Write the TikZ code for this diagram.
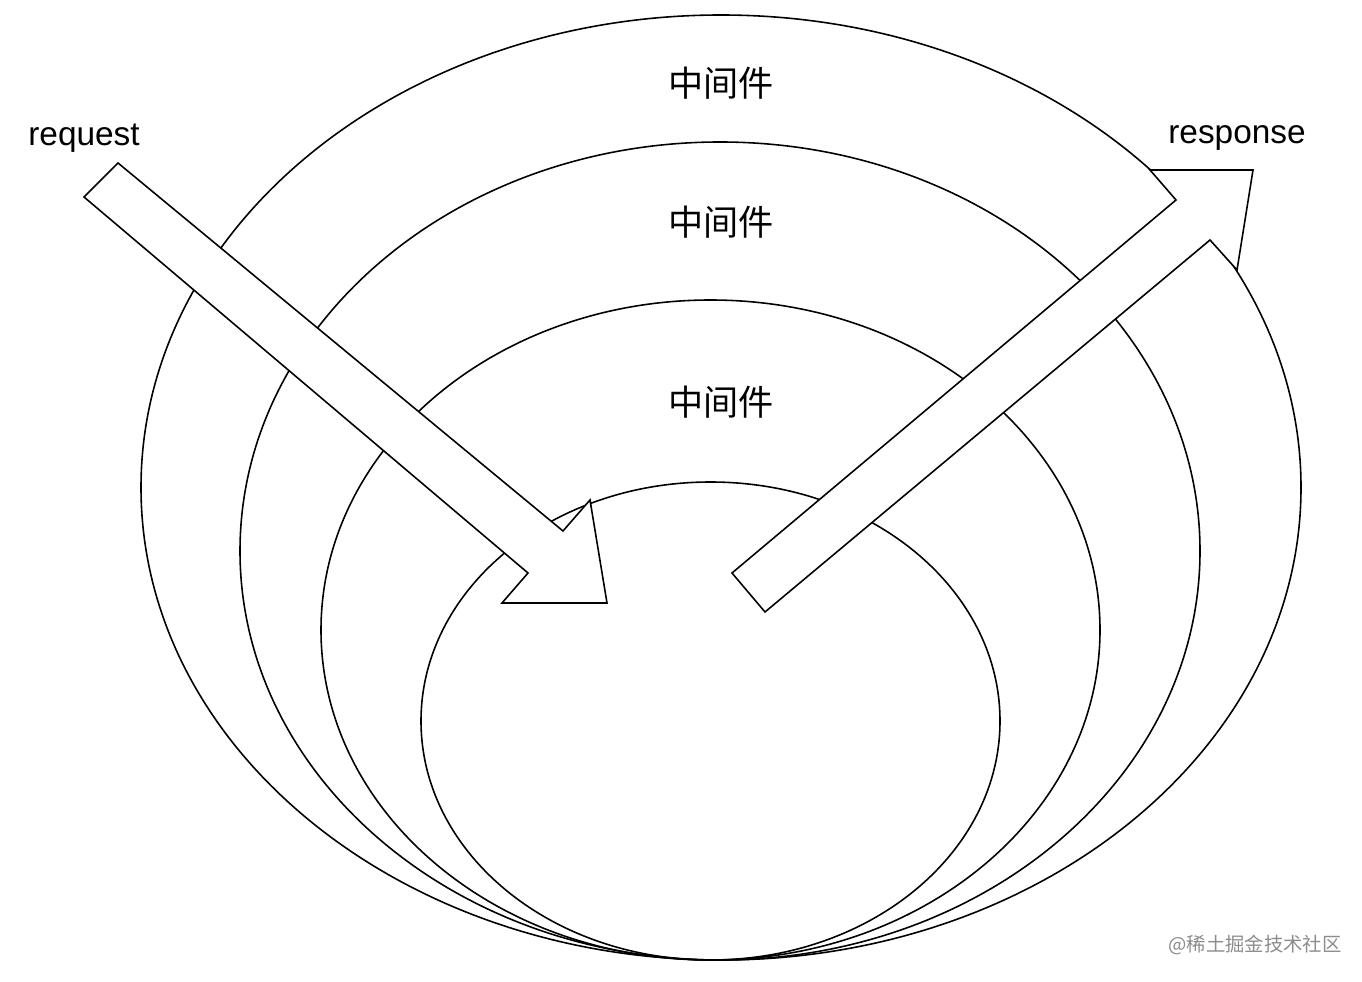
\documentclass[tikz,border=0pt]{standalone}
\usepackage{fontspec}
\setmainfont{Liberation Sans}
\newfontfamily\cjk{Noto Sans CJK SC}
\begin{document}
\begin{tikzpicture}[x=0.02cm,y=-0.02cm,
  ring/.style={draw=black,line width=0.9pt},
  blockarrow/.style={draw=black,fill=white,line width=0.9pt,line join=miter},
  layer/.style={font=\cjk\fontsize{20}{24}\selectfont},
  lbl/.style={font=\fontsize{19}{23}\selectfont}]
\useasboundingbox (0,0) rectangle (1362,982);
\draw[ring] (721,487.5) ellipse [x radius=580,y radius=472.5];
\draw[ring] (720,551) ellipse [x radius=480,y radius=409];
\draw[ring] (710.5,630) ellipse [x radius=389.5,y radius=330];
\draw[ring] (710.5,721) ellipse [x radius=289.5,y radius=239];
\draw[blockarrow] (84,197) -- (528,573) -- (502,603) -- (607,603) -- (590,500) -- (563,531) -- (118,163) -- cycle;
\draw[blockarrow] (732,573) -- (1176,200) -- (1150,170) -- (1253,170) -- (1237,270) -- (1210,240) -- (765,612) -- cycle;
\node[layer] (m1) at (721,83) {中间件};
\node[layer] (m2) at (721,222) {中间件};
\node[layer] (m3) at (721,402) {中间件};
\node[lbl] (req) at (84,138) {request};
\node[lbl] (resp) at (1237,138) {response};
\node[font=\cjk\fontsize{11}{13}\selectfont,text=black!45] (wm) at (1255,945) {@稀土掘金技术社区};
\end{tikzpicture}
\end{document}
